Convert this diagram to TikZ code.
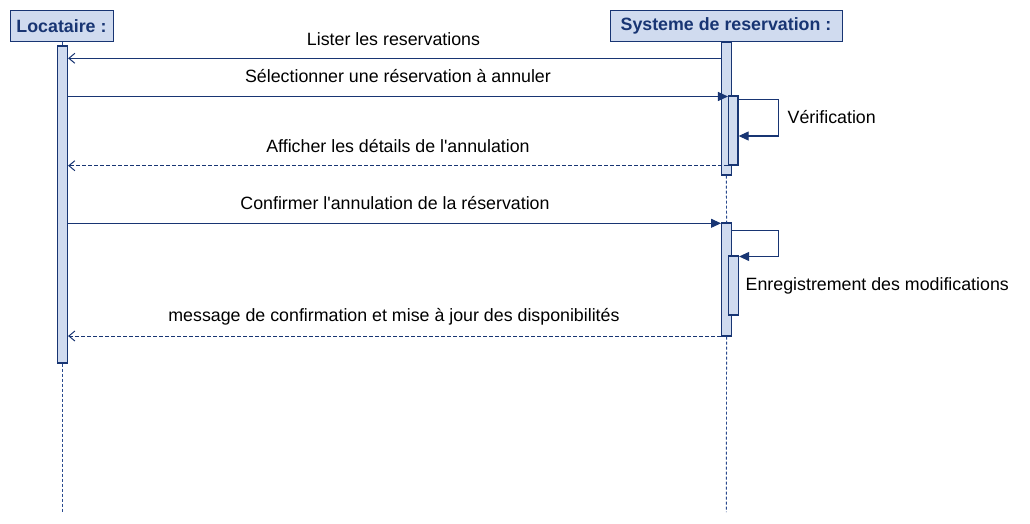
\documentclass[tikz,border=0pt]{standalone}
\usepackage{fontspec}
\setmainfont{Liberation Sans}[Ligatures=TeXOff]
\usetikzlibrary{arrows.meta}
\definecolor{navy}{HTML}{183573}
\definecolor{lnavy}{HTML}{2A4A8E}
\definecolor{fillb}{HTML}{D0DBEF}
\tikzset{
  headbox/.style={draw=navy, fill=fillb, line width=1pt, inner sep=0pt, font=\fontsize{17.8}{20}\selectfont\bfseries, text=navy},
  actbar/.style={draw=navy, fill=fillb, line width=1.2pt, inner sep=0pt, minimum width=10pt},
  lifeline/.style={draw=lnavy, line width=0.9pt, dash pattern=on 3pt off 2pt},
  msg/.style={draw=navy, line width=1pt, -{Triangle[length=10pt,width=9pt]}},
  msgopen/.style={draw=navy, line width=1pt, -{Straight Barb[length=6pt,width=10pt]}},
  retmsg/.style={draw=navy, line width=1pt, dash pattern=on 4pt off 2pt, -{Straight Barb[length=6pt,width=10pt]}},
  lbl/.style={font=\fontsize{17.8}{20}\selectfont, text=black, inner sep=0pt},
}
\begin{document}
\begin{tikzpicture}[x=1pt,y=-1pt]
\useasboundingbox (0,0) rectangle (1030,524);
% headers
\node[headbox, minimum width=103pt, minimum height=31pt] (loc) at (61.5,25.7) {Locataire :};
\node[headbox, minimum width=232pt, minimum height=31pt] (sys) at (726,25.7) {Systeme de reservation :};
% lifeline ends
\coordinate (locend) at (62.5,512);
\coordinate (sysend) at (726.3,512);
% activation bars
\node[actbar, minimum height=317pt] (locA) at (62.5,204.5) {};
\node[actbar, minimum height=133pt] (sysA) at (726.3,108.5) {};
\node[actbar, minimum height=69pt, minimum width=9.5pt] (sysB) at (733.3,130.5) {};
\node[actbar, minimum height=113pt] (sysC) at (726.6,279.5) {};
\node[actbar, minimum height=59pt] (sysD) at (733.5,285.5) {};
% lifelines
\draw[lifeline] (loc.south -| locA) -- (locA.north);
\draw[lifeline] (locA.south) -- (locend);
\draw[lifeline] (sysA.south) -- (sysC.north);
\draw[lifeline] (sysC.south) -- (sysend);
% message rows
\coordinate (y1) at (0,58.3);
\coordinate (y2) at (0,96.5);
\coordinate (y3) at (0,165.7);
\coordinate (y4) at (0,223.3);
\coordinate (y5) at (0,336);
% messages
\draw[msgopen] (sysA.west |- y1) -- (locA.east |- y1);
\node[lbl] (l1) at (393.5,39.3) {Lister les reservations};
\draw[msg] (locA.east |- y2) -- (sysB.west |- y2);
\node[lbl] (l2) at (398,76.3) {Sélectionner une réservation à annuler};
\draw[retmsg] (sysB.west |- y3) -- (locA.east |- y3);
\node[lbl] (l3) at (398,146.3) {Afficher les détails de l'annulation};
\draw[msg] (locA.east |- y4) -- (sysC.west |- y4);
\node[lbl] (l4) at (395,203.3) {Confirmer l'annulation de la réservation};
\draw[retmsg] (sysC.west |- y5) -- (locA.east |- y5);
\node[lbl] (l5) at (394,316.8) {message de confirmation et mise à jour des disponibilités};
% self loops
\coordinate (s1a) at (0,100);
\coordinate (s1b) at (0,136);
\draw[msg] (sysB.east |- s1a) -- (778,100) -- (778,136) -- (sysB.east |- s1b);
\node[lbl, anchor=west] (v) at (787.5,117.3) {Vérification};
\coordinate (s2a) at (0,230);
\coordinate (s2b) at (0,256.5);
\draw[msg] (sysC.east |- s2a) -- (778,230) -- (778,256.5) -- (sysD.east |- s2b);
\node[lbl, anchor=west] (e) at (745.5,286.3) {Enregistrement des modifications};
\end{tikzpicture}
\end{document}
